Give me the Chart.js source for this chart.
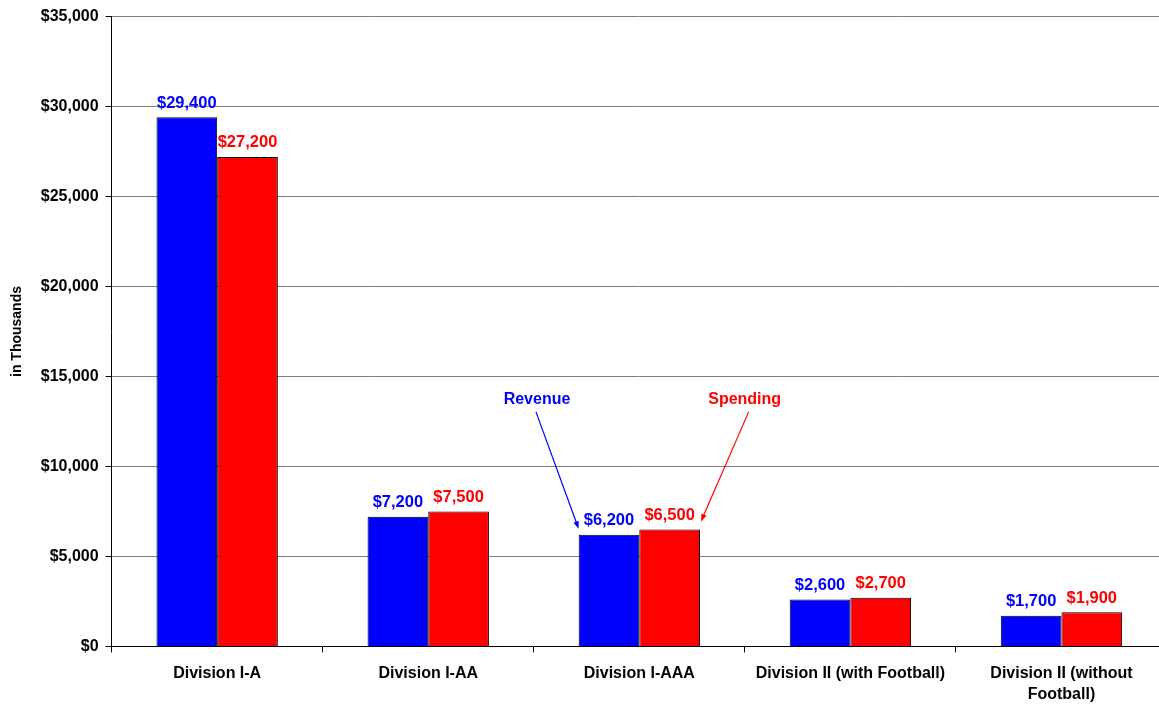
<!DOCTYPE html>
<html>
<head>
<meta charset="utf-8">
<script src="https://cdn.jsdelivr.net/npm/chart.js@4/dist/chart.umd.min.js"></script>
<style>
  html, body { margin: 0; padding: 0; background: #fff; overflow: hidden; }
  #wrap { width: 1167px; height: 704px; }
</style>
</head>
<body>
<div id="wrap"><canvas id="chart" width="1167" height="704"></canvas></div>
<script>
// Average athletics revenue vs. spending per school, by division (in thousands)
const divisions = [
  'Division I-A',
  'Division I-AA',
  'Division I-AAA',
  'Division II (with Football)',
  ['Division II (without', 'Football)'],
]
const revenue = [29400, 7200, 6200, 2600, 1700]
const spending = [27200, 7500, 6500, 2700, 1900]

const BLUE = '#0000ff'
const RED = '#ff0000'
const FONT = '"Liberation Sans", Arial, sans-serif'

// ── Value labels above each bar ──
const valueLabels = {
  id: 'valueLabels',
  afterDatasetsDraw(chart) {
    const ctx = chart.ctx
    ctx.save()
    ctx.font = `bold 16.5px ${FONT}`
    ctx.textAlign = 'center'
    ctx.textBaseline = 'bottom'
    chart.data.datasets.forEach((ds, i) => {
      ctx.fillStyle = ds.backgroundColor
      chart.getDatasetMeta(i).data.forEach((bar, j) => {
        ctx.fillText('$' + ds.data[j].toLocaleString('en-US'), bar.x, bar.y - 6)
      })
    })
    ctx.restore()
  },
}

// ── Series callouts pointing at the Division I-AAA bars ──
function arrow(ctx, x1, y1, x2, y2, color) {
  const ang = Math.atan2(y2 - y1, x2 - x1)
  const head = 8
  ctx.strokeStyle = color
  ctx.fillStyle = color
  ctx.lineWidth = 1.2
  ctx.beginPath()
  ctx.moveTo(x1, y1)
  ctx.lineTo(x2 - Math.cos(ang) * head * 0.8, y2 - Math.sin(ang) * head * 0.8)
  ctx.stroke()
  ctx.beginPath()
  ctx.moveTo(x2, y2)
  ctx.lineTo(x2 - head * Math.cos(ang - 0.35), y2 - head * Math.sin(ang - 0.35))
  ctx.lineTo(x2 - head * Math.cos(ang + 0.35), y2 - head * Math.sin(ang + 0.35))
  ctx.closePath()
  ctx.fill()
}

const callouts = {
  id: 'callouts',
  afterDatasetsDraw(chart) {
    const ctx = chart.ctx
    const rev = chart.getDatasetMeta(0).data[2]
    const spd = chart.getDatasetMeta(1).data[2]
    const ty = chart.scales.y.getPixelForValue(13700)
    const revX = rev.x - 72
    const spdX = spd.x + 75
    ctx.save()
    ctx.font = `bold 16px ${FONT}`
    ctx.textAlign = 'center'
    ctx.textBaseline = 'middle'
    ctx.fillStyle = BLUE
    ctx.fillText('Revenue', revX, ty)
    ctx.fillStyle = RED
    ctx.fillText('Spending', spdX, ty)
    arrow(ctx, revX - 1, ty + 12, rev.x - rev.width / 2, rev.y - 6, BLUE)
    arrow(ctx, spdX + 4, ty + 12, spd.x + spd.width / 2 + 1, spd.y - 8, RED)
    ctx.restore()
  },
}

new Chart(document.getElementById('chart'), {
  type: 'bar',
  data: {
    labels: divisions,
    datasets: [
      { label: 'Revenue', data: revenue, backgroundColor: BLUE, borderColor: '#000', borderWidth: 1 },
      { label: 'Spending', data: spending, backgroundColor: RED, borderColor: '#000', borderWidth: 1 },
    ],
  },
  options: {
    responsive: false,
    animation: false,
    categoryPercentage: 0.575,
    barPercentage: 1,
    layout: { padding: { top: 5, left: 9, right: 0, bottom: -12 } },
    plugins: {
      legend: { display: false },
      tooltip: { enabled: false },
    },
    scales: {
      x: {
        grid: { drawOnChartArea: false, drawTicks: true, tickLength: 6, tickColor: '#000' },
        border: { color: '#000', width: 1 },
        ticks: {
          color: '#000',
          font: { family: FONT, size: 16, weight: 'bold', lineHeight: 1.3 },
          padding: 11,
          maxRotation: 0,
        },
      },
      y: {
        min: 0,
        max: 35000,
        ticks: {
          stepSize: 5000,
          color: '#000',
          padding: 7,
          font: { family: FONT, size: 16, weight: 'bold' },
          callback: v => '$' + v.toLocaleString('en-US'),
        },
        grid: { color: '#7f7f7f', lineWidth: 1, tickColor: '#000', tickLength: 6 },
        border: { color: '#000', width: 1 },
        title: {
          display: true,
          text: 'in Thousands',
          color: '#000',
          font: { family: FONT, size: 14, weight: 'bold' },
          padding: { top: 0, bottom: 8 },
        },
      },
    },
  },
  plugins: [valueLabels, callouts],
})
</script>
</body>
</html>
